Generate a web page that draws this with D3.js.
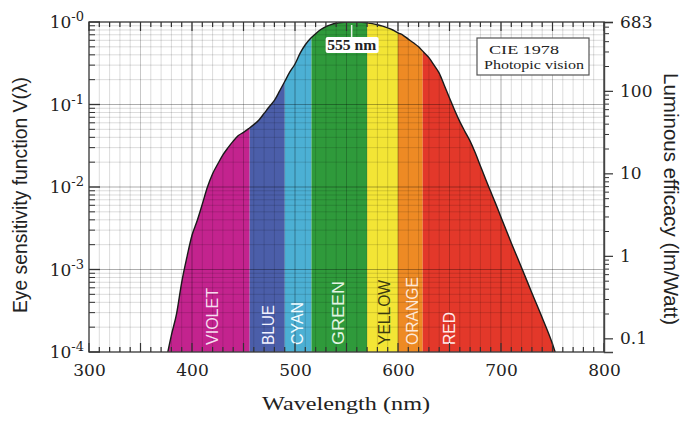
<!DOCTYPE html>
<html><head><meta charset="utf-8">
<script src="https://cdn.jsdelivr.net/npm/d3@7"></script>
<style>html,body{margin:0;padding:0;background:#fff;}svg{display:block;}</style>
</head><body>
<svg id="chart" width="689" height="421"></svg>
<script>
// ---- data ----
const wavelengths = [372,375,380,385,390,395,400,405,410,415,420,425,430,435,440,445,450,455,460,465,470,475,480,485,490,495,500,505,510,515,520,525,530,535,540,545,550,555,560,565,570,575,580,585,590,595,600,605,610,615,620,625,630,635,640,645,650,655,660,665,670,675,680,685,690,695,700,710,720,730,740,750,755,760];
const sensitivity = [0.00005,0.00008,0.00016,0.00029,0.0007,0.0014,0.0026,0.0039,0.0062,0.0100,0.0145,0.019,0.0245,0.030,0.036,0.042,0.046,0.051,0.057,0.065,0.078,0.094,0.112,0.145,0.19,0.248,0.31,0.42,0.53,0.63,0.72,0.81,0.88,0.93,0.965,0.985,0.997,1.0,0.998,0.99,0.975,0.955,0.925,0.89,0.85,0.80,0.74,0.69,0.62,0.56,0.50,0.43,0.37,0.30,0.24,0.17,0.12,0.085,0.062,0.047,0.036,0.026,0.018,0.0125,0.0088,0.0062,0.0043,0.0021,0.00105,0.00052,0.00026,0.000125,0.00008,0.00005];

const bandNames  = ["VIOLET","BLUE","CYAN","GREEN","YELLOW","ORANGE","RED"];
const bandStart  = [370,456,490,516,570,600,624];
const bandEnd    = [456,490,516,570,600,624,770];
const bandColors = ["#c3238e","#4b5ea9","#4cb0d4","#2f9a3b","#f3e535","#ee8a24","#e3382a"];
const bandLabelAt = [420,474,502,542,587,614,650];
const bandLabelColors = ["#f6dcef","#f2f2ff","#f0fbff","#e4f5e4","#3a3a10","#fde8d8","#ffeaea"];

const xTickLabels = [300,400,500,600,700,800];
const leftExponents = [0,-1,-2,-3,-4];
const rightTickLabels = [683,100,10,1,0.1];
const peakNm = 555;

// ---- layout ----
const svg = d3.select("#chart");
const L = 89, R = 604, T = 22, B = 352;
const x = d3.scaleLinear().domain([300,800]).range([L,R]);
const y = d3.scaleLog().domain([1e-4,1]).range([B,T]);
const yR = d3.scaleLog().domain([683e-4,683]).range([B,T]);
const tickFont = "'DejaVu Serif',serif";

const defs = svg.append("defs");
defs.append("clipPath").attr("id","plotClip").append("rect")
  .attr("x",L).attr("y",T).attr("width",R-L).attr("height",B-T);

const pts = wavelengths.map((w,i)=>[w,sensitivity[i]]);
const area = d3.area().x(d=>x(d[0])).y0(B).y1(d=>y(d[1])).curve(d3.curveMonotoneX);
const line = d3.line().x(d=>x(d[0])).y(d=>y(d[1])).curve(d3.curveMonotoneX);

defs.append("clipPath").attr("id","areaClip").append("path").attr("d",area(pts));

// colored bands clipped by the area
const g = svg.append("g").attr("clip-path","url(#plotClip)");
g.append("g").attr("clip-path","url(#areaClip)")
 .selectAll("rect").data(bandNames).join("rect")
 .attr("x",(d,i)=>x(bandStart[i])).attr("width",(d,i)=>x(bandEnd[i])-x(bandStart[i]))
 .attr("y",T).attr("height",B-T).attr("fill",(d,i)=>bandColors[i]);

// grid on top
const vgrid = d3.range(310,800,10);
g.append("g").selectAll("line").data(vgrid).join("line")
 .attr("x1",d=>x(d)).attr("x2",d=>x(d)).attr("y1",T).attr("y2",B)
 .attr("stroke","#000")
 .attr("stroke-opacity",d=>d%100===0?0.32:(d%50===0?0.22:0.14))
 .attr("stroke-width",1);
const hminor = [];
for (let e=-4;e<0;e++) for (let m=2;m<=9;m++) hminor.push(m*Math.pow(10,e));
g.append("g").selectAll("line").data(hminor).join("line")
 .attr("x1",L).attr("x2",R).attr("y1",d=>y(d)).attr("y2",d=>y(d))
 .attr("stroke","#000").attr("stroke-opacity",0.14).attr("stroke-width",1);
g.append("g").selectAll("line").data([1e-3,1e-2,1e-1]).join("line")
 .attr("x1",L).attr("x2",R).attr("y1",d=>y(d)).attr("y2",d=>y(d))
 .attr("stroke","#000").attr("stroke-opacity",0.32).attr("stroke-width",1);

// curve
g.append("path").attr("d",line(pts)).attr("fill","none").attr("stroke","#1a1a1a").attr("stroke-width",1.4);

// band labels
const labelLen = {VIOLET:57,BLUE:40,CYAN:43,GREEN:64,YELLOW:65,ORANGE:68,RED:33};
svg.append("g").selectAll("text").data(bandNames).join("text")
 .attr("transform",(d,i)=>`translate(${x(bandLabelAt[i])},345) rotate(-90)`)
 .attr("dominant-baseline","central")
 .attr("font-family","'Liberation Sans Narrow','Liberation Sans',sans-serif")
 .attr("font-size",17)
 .attr("textLength",d=>labelLen[d]).attr("lengthAdjust","spacingAndGlyphs")
 .attr("fill",(d,i)=>bandLabelColors[i])
 .text(d=>d);

// frame
svg.append("rect").attr("x",L).attr("y",T).attr("width",R-L).attr("height",B-T)
 .attr("fill","none").attr("stroke","#444").attr("stroke-width",1.4);

// inner ticks top / bottom
const xt = d3.range(300,801,10);
svg.append("g").selectAll("line").data(xt).join("line")
 .attr("x1",d=>x(d)).attr("x2",d=>x(d)).attr("y1",T).attr("y2",d=>T+(d%50===0?9:5))
 .attr("stroke","#333").attr("stroke-width",1.2);
svg.append("g").selectAll("line").data(xt).join("line")
 .attr("x1",d=>x(d)).attr("x2",d=>x(d)).attr("y1",B).attr("y2",d=>B-(d%50===0?9:5))
 .attr("stroke","#333").attr("stroke-width",1.2);

// left ticks (inward)
svg.append("g").selectAll("line").data(hminor).join("line")
 .attr("x1",L).attr("x2",L+6).attr("y1",d=>y(d)).attr("y2",d=>y(d)).attr("stroke","#333");
svg.append("g").selectAll("line").data(leftExponents).join("line")
 .attr("x1",L).attr("x2",L+11).attr("y1",d=>y(Math.pow(10,d))).attr("y2",d=>y(Math.pow(10,d))).attr("stroke","#333").attr("stroke-width",1.3);

// bottom axis labels
const xAxis = d3.axisBottom(x).tickValues(xTickLabels).tickSize(0).tickPadding(12).tickFormat(d3.format("d"));
const gx = svg.append("g").attr("transform",`translate(0,${B})`).call(xAxis);
gx.select(".domain").remove();
gx.selectAll("text").attr("font-family",tickFont).attr("font-size",17).attr("fill","#222");

// left labels 10^-n
const ll = svg.append("g").selectAll("text").data(leftExponents).join("text")
 .attr("x",84).attr("y",d=>y(Math.pow(10,d))+6)
 .attr("text-anchor","end")
 .attr("font-family",tickFont).attr("font-size",17).attr("fill","#222");
ll.append("tspan").text("10");
ll.append("tspan").attr("font-size",13).attr("dy",-7).text(d=>"-"+Math.abs(d));

// right axis
const rMinor = [];
for (let e=-1;e<3;e++) for (let m=2;m<=9;m++){ const v=m*Math.pow(10,e); if(v<683) rMinor.push(v); }
const rAxisMinor = d3.axisRight(yR).tickValues(rMinor).tickSize(5).tickFormat("");
const gr1 = svg.append("g").attr("transform",`translate(${R},0)`).call(rAxisMinor);
gr1.select(".domain").remove();
gr1.selectAll("line").attr("stroke","#333");
const rAxis = d3.axisRight(yR).tickValues(rightTickLabels).tickSize(9).tickPadding(7).tickFormat(d=>d<1?d3.format(".1f")(d):d3.format("d")(d));
const gr = svg.append("g").attr("transform",`translate(${R},0)`).call(rAxis);
gr.select(".domain").attr("stroke","#444").attr("stroke-width",1.4);
gr.selectAll("line").attr("stroke","#333").attr("stroke-width",1.2);
gr.selectAll("text").attr("font-family",tickFont).attr("font-size",17).attr("fill","#222");

// axis titles
svg.append("text").attr("transform","translate(27,195) rotate(-90)")
 .attr("text-anchor","middle")
 .attr("font-family","'Liberation Sans Narrow','Liberation Sans',sans-serif").attr("font-size",20).attr("fill","#222")
 .attr("textLength",236).attr("lengthAdjust","spacingAndGlyphs")
 .text("Eye sensitivity function V(λ)");
svg.append("text").attr("transform","translate(664,199) rotate(90)")
 .attr("text-anchor","middle")
 .attr("font-family","'Liberation Sans Narrow','Liberation Sans',sans-serif").attr("font-size",20).attr("fill","#222")
 .attr("textLength",252).attr("lengthAdjust","spacingAndGlyphs")
 .text("Luminous efficacy (lm/Watt)");
svg.append("text").attr("x",346).attr("y",410).attr("text-anchor","middle")
 .attr("font-family","'Liberation Serif',serif").attr("font-size",19).attr("fill","#222")
 .attr("textLength",168).attr("lengthAdjust","spacingAndGlyphs")
 .text("Wavelength (nm)");

// peak annotation
svg.append("line").attr("x1",x(peakNm)).attr("x2",x(peakNm)).attr("y1",T+3).attr("y2",T+15)
 .attr("stroke","#e8f5e8").attr("stroke-width",1.5);
svg.append("rect").attr("x",x(peakNm)-26).attr("y",37).attr("width",53).attr("height",16).attr("rx",2)
 .attr("fill","#fff");
svg.append("text").attr("x",x(peakNm)).attr("y",50).attr("text-anchor","middle")
 .attr("font-family","'Liberation Serif',serif").attr("font-size",14).attr("font-weight","bold").attr("fill","#222")
 .attr("textLength",49).attr("lengthAdjust","spacingAndGlyphs")
 .text(peakNm+" nm");

// legend box
svg.append("rect").attr("x",477).attr("y",38).attr("width",112).attr("height",37)
 .attr("fill","#fff").attr("stroke","#555").attr("stroke-width",1.2);
svg.append("text").attr("x",524).attr("y",54).attr("text-anchor","middle")
 .attr("font-family","'Liberation Serif',serif").attr("font-size",13.5).attr("fill","#222")
 .attr("textLength",70).attr("lengthAdjust","spacingAndGlyphs").text("CIE 1978");
svg.append("text").attr("x",534).attr("y",69).attr("text-anchor","middle")
 .attr("font-family","'Liberation Serif',serif").attr("font-size",13.5).attr("fill","#222")
 .attr("textLength",100).attr("lengthAdjust","spacingAndGlyphs").text("Photopic vision");
</script>
</body></html>
